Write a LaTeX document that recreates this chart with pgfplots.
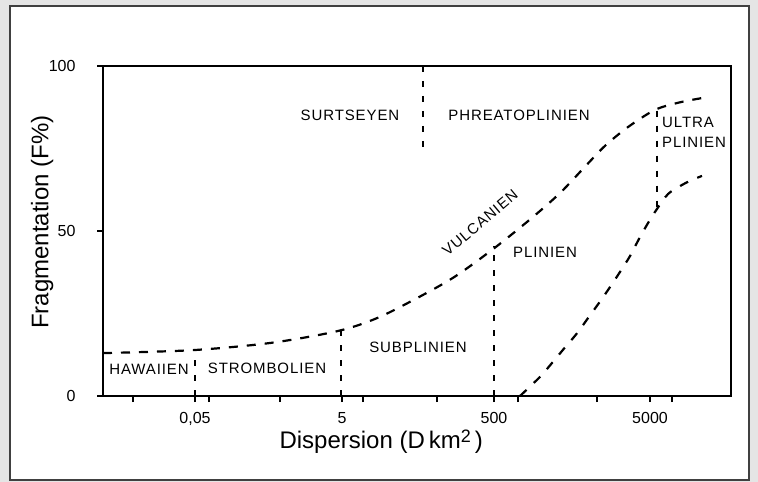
\documentclass[border=0pt]{standalone}
\usepackage{fontspec}
\setmainfont{Liberation Sans}
\newfontfamily\lab[LetterSpace=6]{Liberation Sans}
\usepackage{pgfplots}
\pgfplotsset{compat=1.18}
\begin{document}
\begin{tikzpicture}
\useasboundingbox (0pt,0pt) rectangle (758pt,482pt);
\fill[black!10] (0pt,0pt) rectangle (758pt,482pt);
\filldraw[fill=white, draw=black!75, line width=1.5pt] (10pt,2pt) rectangle (749pt,476pt);
\begin{axis}[
  at={(103pt,86pt)}, anchor=south west,
  scale only axis, width=628pt, height=330pt,
  xmin=103, xmax=731, ymin=0, ymax=100,
  axis line style={line width=2pt},
  tick align=outside, major tick length=6pt,
  tick style={line width=1.6pt, black},
  xtick={133,195,209,280,342,363,437,494,518,597,650,672},
  xticklabels={,{0,05},,,5,,,500,,,5000,},
  ytick={0,50,100}, yticklabels={0,50,100},
  xtick pos=left, ytick pos=left,
  ticklabel style={font=\fontsize{16}{16}\selectfont},
  xticklabel style={yshift=-7pt},
  yticklabel style={xshift=-18pt},
  xlabel={Dispersion (D\,km\raisebox{0.5ex}{\fontsize{18}{18}\selectfont 2}\,)},
  ylabel={Fragmentation (F\%)},
  label style={font=\fontsize{24}{24}\selectfont},
  xlabel style={at={(axis description cs:0.443,-0.139)}, anchor=center},
  ylabel style={at={(axis description cs:-0.097,0.527)}, anchor=center},
  clip=false,
]
% upper boundary curve
\addplot[black, line width=2.2pt, dash pattern=on 9pt off 9pt, smooth] coordinates {
 (103,13.0) (193,13.9) (271,16.1) (338,19.7) (377,23.6) (416,29.5) (454,36)
 (493,44.5) (530,53.5) (560,61.5) (585,69.5) (605,75.8) (628,81.5) (655,86.7)
 (680,89) (708,90.6)};
% lower curve
\addplot[black, line width=2.2pt, dash pattern=on 9pt off 10pt, smooth] coordinates {
 (520,0) (540,5.8) (552,10) (563,14) (577,19) (588,23.6) (599,28.2) (610,33)
 (620,37.6) (630,42.4) (639,47.6) (648,52.4) (657,56.7) (668,61.2) (680,63.6)
 (690,65.2) (702,66.7)};
% vertical separators
\addplot[black, line width=1.8pt, dash pattern=on 6pt off 9pt] coordinates {(195,0) (195,13.9)};
\addplot[black, line width=1.8pt, dash pattern=on 6pt off 9pt] coordinates {(341,0) (341,20)};
\addplot[black, line width=1.8pt, dash pattern=on 6pt off 9pt] coordinates {(494,0) (494,45.5)};
\addplot[black, line width=1.8pt, dash pattern=on 6pt off 9pt] coordinates {(423,100) (423,74)};
\addplot[black, line width=1.8pt, dash pattern=on 6pt off 9pt] coordinates {(657,86.5) (657,56)};
% labels
\tikzset{lbl/.style={font=\lab\fontsize{15}{15}\selectfont, inner sep=0pt}}
\node[lbl] at (axis cs:149,8.2) {HAWAIIEN};
\node[lbl] at (axis cs:267,8.5) {STROMBOLIEN};
\node[lbl] at (axis cs:418,14.8) {SUBPLINIEN};
\node[lbl] at (axis cs:350,85.2) {SURTSEYEN};
\node[lbl] at (axis cs:519,85.2) {PHREATOPLINIEN};
\node[lbl, rotate=40] at (axis cs:480,52.5) {VULCANIEN};
\node[lbl] at (axis cs:545,43.6) {PLINIEN};
\node[lbl, anchor=west] at (axis cs:662,83) {ULTRA};
\node[lbl, anchor=west] at (axis cs:662,77) {PLINIEN};
\end{axis}
\end{tikzpicture}
\end{document}
